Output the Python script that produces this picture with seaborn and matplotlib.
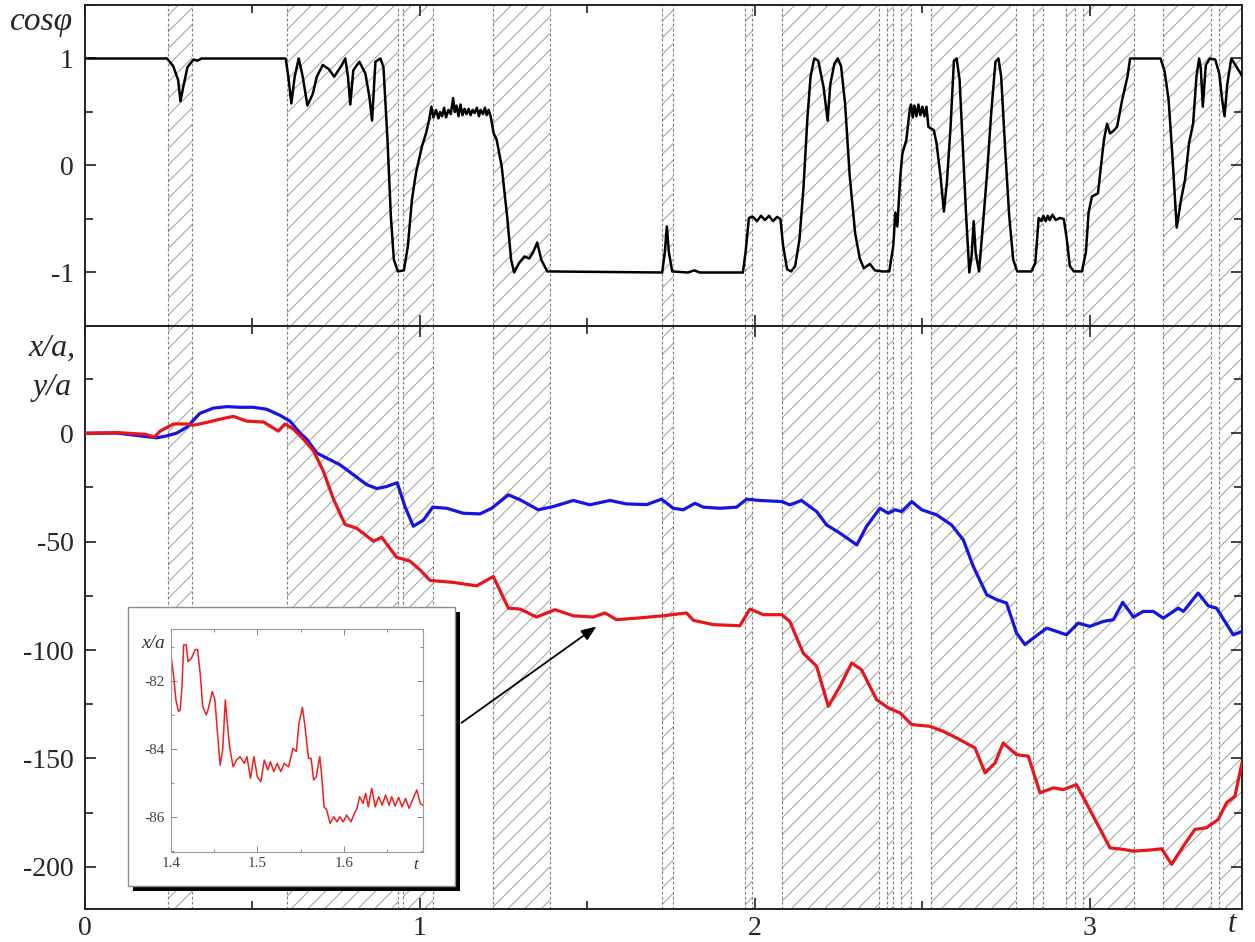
import numpy as np
import pandas as pd
import matplotlib
matplotlib.use("Agg")
import matplotlib.pyplot as plt
import seaborn as sns
from matplotlib.patches import Rectangle
from matplotlib.ticker import MultipleLocator, FixedLocator

# ---------------- data ----------------
band_start = [0.249, 0.602, 0.950, 1.217, 1.724, 1.969, 2.080, 2.393, 2.435,
              2.527, 2.831, 2.928, 2.978, 3.219, 3.386]
band_end = [0.320, 0.933, 1.038, 1.388, 1.756, 1.991, 2.371, 2.413, 2.467,
            2.780, 2.861, 2.955, 3.131, 3.360, 3.454]

t_cos = [0.000, 0.245, 0.263, 0.278, 0.285, 0.293, 0.306, 0.324, 0.336, 0.348,
         0.599, 0.607, 0.616, 0.626, 0.638, 0.650, 0.664, 0.680, 0.692, 0.710,
         0.728, 0.744, 0.765, 0.777, 0.785, 0.792, 0.801, 0.819, 0.837, 0.849,
         0.857, 0.867, 0.882, 0.891, 0.903, 0.913, 0.922, 0.934, 0.952, 0.964,
         0.976, 0.988, 1.006, 1.018, 1.027, 1.034, 1.040, 1.048, 1.055, 1.060,
         1.066, 1.072, 1.078, 1.085, 1.092, 1.099, 1.104, 1.109, 1.115, 1.121,
         1.127, 1.133, 1.139, 1.145, 1.151, 1.157, 1.163, 1.170, 1.176, 1.181,
         1.188, 1.194, 1.199, 1.205, 1.211, 1.220, 1.229, 1.244, 1.260, 1.272,
         1.281, 1.296, 1.312, 1.326, 1.338, 1.350, 1.362, 1.380, 1.723, 1.731,
         1.737, 1.743, 1.753, 1.800, 1.819, 1.835, 1.964, 1.972, 1.982, 1.994,
         2.006, 2.018, 2.030, 2.042, 2.054, 2.066, 2.076, 2.084, 2.096, 2.108,
         2.120, 2.133, 2.145, 2.157, 2.166, 2.177, 2.189, 2.205, 2.217, 2.225,
         2.237, 2.247, 2.257, 2.269, 2.283, 2.299, 2.313, 2.325, 2.343, 2.358,
         2.380, 2.401, 2.413, 2.419, 2.425, 2.434, 2.440, 2.452, 2.462, 2.466,
         2.471, 2.476, 2.482, 2.488, 2.494, 2.500, 2.506, 2.512, 2.518, 2.534,
         2.542, 2.554, 2.564, 2.573, 2.584, 2.594, 2.602, 2.611, 2.620, 2.630,
         2.640, 2.647, 2.653, 2.659, 2.669, 2.681, 2.693, 2.706, 2.718, 2.727,
         2.735, 2.747, 2.759, 2.771, 2.783, 2.825, 2.837, 2.847, 2.855, 2.861,
         2.868, 2.874, 2.880, 2.888, 2.898, 2.910, 2.922, 2.931, 2.940, 2.952,
         2.976, 2.988, 2.996, 3.006, 3.024, 3.036, 3.042, 3.051, 3.060, 3.069,
         3.081, 3.096, 3.112, 3.120, 3.211, 3.223, 3.235, 3.247, 3.259, 3.272,
         3.284, 3.296, 3.308, 3.318, 3.326, 3.331, 3.337, 3.346, 3.358, 3.374,
         3.386, 3.395, 3.402, 3.410, 3.422, 3.434, 3.454]
cos_phi = [1.00, 1.00, 0.93, 0.80, 0.60, 0.73, 0.92, 0.99, 0.98, 1.00,
           1.00, 0.83, 0.58, 0.83, 1.00, 0.83, 0.56, 0.67, 0.83, 0.94,
           0.90, 0.83, 0.93, 1.00, 0.83, 0.57, 0.89, 0.97, 0.86, 0.64,
           0.42, 0.97, 1.00, 0.92, 0.24, -0.47, -0.88, -0.99, -0.98, -0.75,
           -0.32, -0.07, 0.18, 0.30, 0.42, 0.55, 0.45, 0.52, 0.44, 0.50,
           0.46, 0.54, 0.45, 0.52, 0.48, 0.63, 0.50, 0.56, 0.46, 0.57,
           0.47, 0.53, 0.48, 0.53, 0.47, 0.52, 0.49, 0.54, 0.46, 0.52,
           0.48, 0.54, 0.47, 0.52, 0.46, 0.30, 0.24, -0.01, -0.47, -0.88,
           -1.00, -0.91, -0.85, -0.87, -0.81, -0.72, -0.88, -0.99, -1.00, -0.81,
           -0.57, -0.81, -0.99, -1.00, -0.98, -1.00, -1.00, -0.81, -0.49, -0.48,
           -0.52, -0.47, -0.51, -0.47, -0.52, -0.48, -0.50, -0.75, -0.97, -0.99,
           -0.94, -0.69, -0.20, 0.46, 0.83, 1.00, 0.98, 0.73, 0.42, 0.76,
           0.95, 1.00, 0.93, 0.58, -0.10, -0.63, -0.87, -0.96, -0.92, -0.98,
           -0.99, -0.99, -0.75, -0.44, -0.57, -0.10, 0.11, 0.24, 0.52, 0.57,
           0.45, 0.56, 0.46, 0.57, 0.47, 0.55, 0.46, 0.55, 0.36, 0.33,
           0.21, -0.10, -0.43, -0.16, 0.36, 0.98, 1.00, 0.80, 0.21, -0.44,
           -1.00, -0.84, -0.52, -0.82, -0.99, -0.54, -0.07, 0.52, 0.97, 1.00,
           0.83, 0.15, -0.47, -0.88, -0.99, -0.99, -0.91, -0.49, -0.52, -0.47,
           -0.52, -0.47, -0.51, -0.46, -0.51, -0.49, -0.50, -0.69, -0.94, -0.99,
           -0.99, -0.81, -0.44, -0.29, -0.26, 0.08, 0.24, 0.39, 0.30, 0.32,
           0.36, 0.61, 0.83, 1.00, 1.00, 0.88, 0.61, 0.05, -0.58, -0.32,
           -0.13, 0.21, 0.39, 0.83, 1.00, 0.91, 0.55, 0.94, 1.00, 0.99,
           0.86, 0.61, 0.46, 0.76, 1.00, 0.94, 0.84]

t_x = [0.000, 0.100, 0.180, 0.208, 0.224, 0.264, 0.304, 0.323, 0.363, 0.403,
       0.443, 0.483, 0.533, 0.577, 0.597, 0.622, 0.652, 0.682, 0.711, 0.741,
       0.776, 0.811, 0.861, 0.886, 0.930, 0.970, 1.000, 1.030, 1.100, 1.169,
       1.219, 1.264, 1.299, 1.348, 1.403, 1.458, 1.517, 1.552, 1.587, 1.647,
       1.726, 1.796, 1.816, 1.876, 1.955, 1.985, 2.025, 2.080, 2.104, 2.144,
       2.184, 2.219, 2.254, 2.289, 2.318, 2.363, 2.398, 2.433, 2.468, 2.522,
       2.562, 2.602, 2.657, 2.687, 2.717, 2.741, 2.781, 2.816, 2.851, 2.891,
       2.920, 2.960, 3.010, 3.060, 3.100, 3.130, 3.179, 3.214, 3.244, 3.279,
       3.313, 3.348, 3.383, 3.408, 3.433, 3.454]
x_over_a = [0.0, 0.3, -0.5, -1.7, 1.0, 4.3, 4.3, 3.7, 5.0, 6.5,
            7.8, 5.6, 5.2, 1.0, 4.3, 1.9, -2.7, -8.1, -17.3, -30.1,
            -42.0, -43.8, -49.8, -48.0, -57.2, -59.0, -63.0, -67.9, -68.8, -70.4,
            -66.1, -80.7, -81.1, -84.8, -81.4, -84.2, -84.8, -82.9, -86.0, -85.3,
            -84.2, -82.9, -86.3, -88.3, -88.8, -81.1, -83.7, -83.7, -86.8, -101.4,
            -107.5, -126.0, -116.7, -106.0, -109.1, -122.9, -126.7, -129.0, -134.4, -135.2,
            -137.5, -140.6, -145.2, -156.7, -152.1, -142.9, -148.3, -149.0, -165.9, -163.6,
            -164.4, -162.1, -176.7, -191.3, -192.0, -192.8, -192.3, -191.7, -198.9, -190.5,
            -182.8, -182.0, -178.2, -170.5, -167.4, -152.0]

t_y = [0.000, 0.095, 0.144, 0.214, 0.244, 0.274, 0.304, 0.343, 0.383, 0.423,
       0.463, 0.502, 0.542, 0.582, 0.612, 0.642, 0.662, 0.692, 0.721, 0.761,
       0.801, 0.841, 0.871, 0.900, 0.932, 0.955, 0.980, 1.010, 1.038, 1.080,
       1.129, 1.179, 1.214, 1.264, 1.299, 1.353, 1.398, 1.458, 1.507, 1.567,
       1.617, 1.677, 1.721, 1.756, 1.786, 1.821, 1.846, 1.896, 1.945, 1.975,
       2.015, 2.080, 2.104, 2.139, 2.184, 2.214, 2.254, 2.304, 2.333, 2.373,
       2.398, 2.418, 2.438, 2.468, 2.498, 2.542, 2.587, 2.622, 2.652, 2.692,
       2.722, 2.751, 2.781, 2.806, 2.831, 2.871, 2.900, 2.930, 2.965, 3.000,
       3.040, 3.070, 3.098, 3.130, 3.159, 3.189, 3.219, 3.264, 3.279, 3.323,
       3.353, 3.378, 3.428, 3.454]
y_over_a = [0.0, 0.1, -0.8, -2.1, -1.2, 0.1, 2.8, 9.2, 11.6, 12.3,
            12.0, 12.0, 11.1, 8.3, 5.6, 0.1, -2.7, -9.1, -11.4, -14.5,
            -19.1, -23.7, -25.5, -24.6, -22.8, -33.7, -42.9, -40.1, -34.1, -34.6,
            -36.9, -37.2, -34.6, -28.4, -30.7, -35.3, -33.8, -31.0, -33.0, -31.0,
            -32.6, -32.9, -30.4, -34.6, -35.3, -32.3, -34.1, -34.6, -34.1, -30.4,
            -31.0, -31.5, -33.0, -31.0, -36.1, -42.3, -46.1, -51.5, -43.0, -34.6,
            -36.9, -35.3, -36.1, -31.5, -35.3, -37.6, -42.3, -49.2, -61.5, -74.5,
            -76.8, -78.3, -92.2, -97.5, -94.5, -89.9, -91.4, -93.0, -87.6, -89.1,
            -86.8, -86.0, -78.0, -84.8, -82.2, -82.2, -85.3, -80.7, -82.2, -73.7,
            -79.6, -80.7, -93.0, -91.4]

inset_t = [1.400, 1.403, 1.406, 1.409, 1.411, 1.413, 1.415, 1.418, 1.420, 1.424,
           1.428, 1.431, 1.434, 1.437, 1.441, 1.443, 1.448, 1.451, 1.454, 1.457,
           1.460, 1.463, 1.465, 1.468, 1.472, 1.476, 1.480, 1.485, 1.488, 1.492,
           1.496, 1.500, 1.504, 1.508, 1.512, 1.515, 1.519, 1.523, 1.527, 1.531,
           1.536, 1.541, 1.545, 1.548, 1.552, 1.555, 1.559, 1.562, 1.565, 1.568,
           1.572, 1.574, 1.577, 1.580, 1.584, 1.588, 1.592, 1.595, 1.599, 1.603,
           1.608, 1.612, 1.615, 1.618, 1.622, 1.625, 1.628, 1.632, 1.636, 1.640,
           1.644, 1.648, 1.652, 1.655, 1.659, 1.663, 1.667, 1.671, 1.675, 1.679,
           1.684, 1.688, 1.691]
inset_x = [-81.18, -81.77, -82.56, -82.90, -82.86, -82.17, -80.94, -80.94, -81.43, -81.33,
           -81.09, -81.07, -81.77, -82.76, -83.00, -82.86, -82.31, -82.56, -83.54, -84.48,
           -84.03, -82.56, -83.15, -83.94, -84.53, -84.33, -84.23, -84.43, -84.23, -84.87,
           -84.23, -84.82, -84.97, -84.33, -84.62, -84.38, -84.67, -84.43, -84.67, -84.43,
           -84.53, -83.99, -84.08, -83.25, -82.78, -83.35, -84.28, -84.28, -84.92, -84.82,
           -84.23, -84.72, -85.71, -85.80, -86.20, -86.00, -86.15, -86.00, -86.15, -85.95,
           -86.15, -85.90, -85.75, -85.41, -85.61, -85.31, -85.71, -85.16, -85.71, -85.41,
           -85.66, -85.36, -85.66, -85.41, -85.69, -85.43, -85.71, -85.46, -85.75, -85.51,
           -85.21, -85.61, -85.66]

cos_ticks = [-1, 0, 1]
cos_ticklabels = ["-1", "0", "1"]
xy_ticks = [0, -50, -100, -150, -200]
xy_ticklabels = ["0", "-50", "-100", "-150", "-200"]
t_ticks = [0, 1, 2, 3]
t_ticklabels = ["0", "1", "2", "3"]
inset_t_ticks = [1.4, 1.5, 1.6]
inset_t_ticklabels = ["1.4", "1.5", "1.6"]
inset_x_ticks = [-82, -84, -86]
inset_x_ticklabels = ["-82", "-84", "-86"]

# ---------------- style ----------------
sns.set_style("ticks")
plt.rcParams["font.family"] = ["Liberation Serif", "DejaVu Serif"]
plt.rcParams["axes.unicode_minus"] = False
plt.rcParams["hatch.linewidth"] = 0.8
plt.rcParams["hatch.color"] = "#a9a9a9"

W_PX, H_PX = 1255, 942
fig = plt.figure(figsize=(W_PX / 100, H_PX / 100), dpi=100)
fig.patch.set_facecolor("white")


def fx(px):
    return px / W_PX


def fy(py):
    return 1 - py / H_PX


left_px, right_px = 85, 1242
ax1 = fig.add_axes([fx(left_px), fy(326), fx(right_px - left_px), (326 - 5) / H_PX])
ax2 = fig.add_axes([fx(left_px), fy(909), fx(right_px - left_px), (909 - 326) / H_PX],
                   sharex=ax1)

XMAX = 3.454
for ax in (ax1, ax2):
    ax.set_facecolor("white")
    for s, e in zip(band_start, band_end):
        ax.axvspan(s, e, facecolor="none", edgecolor="#a9a9a9", hatch="//",
                   linewidth=0, zorder=0.5)
        for b in (s, e):
            if b < XMAX - 0.002:
                ax.axvline(b, color="#7d7d7d", lw=0.8, ls=(0, (2.5, 2.0)), zorder=0.6)

# curves via seaborn
cos_df = pd.DataFrame({"t": t_cos, "cos": cos_phi})
sns.lineplot(data=cos_df, x="t", y="cos", ax=ax1, color="black", linewidth=1.8,
             estimator=None, sort=False, zorder=3)
xdf = pd.DataFrame({"t": t_x, "v": x_over_a})
ydf = pd.DataFrame({"t": t_y, "v": y_over_a})
sns.lineplot(data=ydf, x="t", y="v", ax=ax2, color="#1414e6", linewidth=2.3,
             estimator=None, sort=False, zorder=3)
sns.lineplot(data=xdf, x="t", y="v", ax=ax2, color="#e8161c", linewidth=2.3,
             estimator=None, sort=False, zorder=3)

ax1.set_xlim(0, XMAX)
ax1.set_ylim(-1.5, 1.5)
ax2.set_ylim(-219.5, 49.5)

ax1.yaxis.set_major_locator(FixedLocator(cos_ticks))
ax1.set_yticklabels(cos_ticklabels)
ax1.yaxis.set_minor_locator(MultipleLocator(0.5))
ax2.yaxis.set_major_locator(FixedLocator(xy_ticks))
ax2.set_yticklabels(xy_ticklabels)
ax2.yaxis.set_minor_locator(MultipleLocator(25))
ax2.xaxis.set_major_locator(FixedLocator(t_ticks))
ax2.set_xticklabels(t_ticklabels)
ax2.xaxis.set_minor_locator(MultipleLocator(0.5))

for ax in (ax1, ax2):
    ax.set_xlabel("")
    ax.set_ylabel("")
    ax.tick_params(which="both", direction="in", top=True, right=True,
                   labelsize=20, pad=8, color="#222222", width=1.2)
    ax.tick_params(which="major", length=8)
    ax.tick_params(which="minor", length=6)
    for sp in ax.spines.values():
        sp.set_color("#222222")
        sp.set_linewidth(1.4)
    ax.set_axisbelow(False)
ax1.tick_params(labelbottom=False)
ax2.tick_params(axis="x", pad=5)

fig.text(fx(42), fy(22), "cos\u03c6", fontsize=24, style="italic",
         ha="center", va="center")
fig.text(fx(76), fy(348), "x/a,", fontsize=23, style="italic", ha="right", va="center")
fig.text(fx(72), fy(388), "y/a", fontsize=23, style="italic", ha="right", va="center")
fig.text(fx(1232), fy(925), "t", fontsize=22, style="italic", ha="center", va="center")

# arrow to the zoomed region
ax2.annotate("", xy=(1.527, -89.1), xytext=(1.124, -133.6),
             arrowprops=dict(arrowstyle="-|>,head_length=0.9,head_width=0.35",
                             color="black", lw=1.3, shrinkA=0, shrinkB=0),
             zorder=4)

# inset frame with shadow
shadow = Rectangle((fx(133), fy(891)), fx(460 - 133), (891 - 612) / H_PX,
                   transform=fig.transFigure, facecolor="black", edgecolor="none",
                   zorder=5)
frame = Rectangle((fx(128), fy(886)), fx(455 - 128), (886 - 607) / H_PX,
                  transform=fig.transFigure, facecolor="white", edgecolor="#8c8c8c",
                  linewidth=1.0, zorder=5.5)
fig.add_artist(shadow)
fig.add_artist(frame)

axi = fig.add_axes([fx(170.7), fy(851.7), fx(423.3 - 170.7), (851.7 - 629.3) / H_PX],
                   zorder=6)
idf = pd.DataFrame({"t": inset_t, "x": inset_x})
sns.lineplot(data=idf, x="t", y="x", ax=axi, color="#ee2020", linewidth=1.1,
             estimator=None, sort=False)
axi.set_xlim(1.4, 1.6915)
axi.set_ylim(-87.03, -80.48)
axi.xaxis.set_major_locator(FixedLocator(inset_t_ticks))
axi.set_xticklabels(inset_t_ticklabels)
axi.xaxis.set_minor_locator(MultipleLocator(0.05))
axi.yaxis.set_major_locator(FixedLocator(inset_x_ticks))
axi.set_yticklabels(inset_x_ticklabels)
axi.yaxis.set_minor_locator(MultipleLocator(1))
axi.set_xlabel("")
axi.set_ylabel("")
axi.tick_params(which="both", direction="in", top=True, right=True, labelsize=11,
                pad=4, color="#8a8a8a", labelcolor="#444444", width=0.7)
axi.tick_params(which="major", length=4)
axi.tick_params(which="minor", length=2.5)
for sp in axi.spines.values():
    sp.set_color("#9a9a9a")
    sp.set_linewidth(0.8)
fig.text(fx(153), fy(643), "x/a", fontsize=14, style="italic", ha="center",
         va="center", color="#333333", zorder=7)
fig.text(fx(416), fy(865), "t", fontsize=12, style="italic", ha="center",
         va="center", color="#333333", zorder=7)

fig.savefig("out.png", dpi=100, facecolor="white")
